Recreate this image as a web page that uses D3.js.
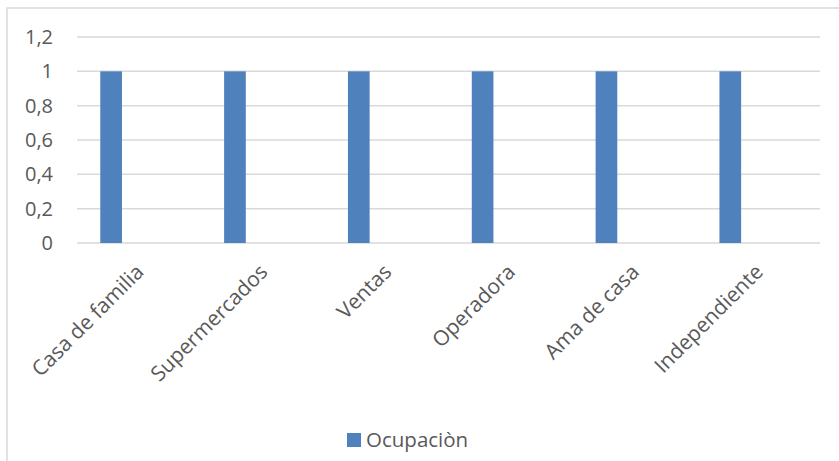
<!DOCTYPE html>
<html>
<head>
<meta charset="utf-8">
<script src="https://cdn.jsdelivr.net/npm/d3@7"></script>
<style>
  html, body { margin: 0; padding: 0; background: #fff; }
  svg { display: block; }
  text { font-family: "Open Sans", sans-serif; fill: #595959; }
</style>
</head>
<body>
<svg id="chart" width="839" height="461"></svg>
<script>
const categories = ["Casa de familia", "Supermercados", "Ventas", "Operadora", "Ama de casa", "Independiente"];
const values = [1, 1, 1, 1, 1, 1];
const yTicks = [0, 0.2, 0.4, 0.6, 0.8, 1, 1.2];
const seriesName = "Ocupaciòn";

const W = 839, H = 461;
const plot = { left: 77, right: 820, top: 37, bottom: 243 };
const barColor = "#4f81bd";
const gridColor = "#d9d9d9";

const svg = d3.select("#chart");

// outer chart border
svg.append("rect")
  .attr("x", 7).attr("y", 8)
  .attr("width", W + 10).attr("height", H + 10)
  .attr("fill", "none").attr("stroke", gridColor).attr("stroke-width", 1.5);

const x = d3.scaleBand().domain(categories).range([plot.left, plot.right]).padding(0);
const y = d3.scaleLinear().domain([0, 1.2]).range([plot.bottom, plot.top]);

const fmt = v => d3.format("~g")(+v.toFixed(1)).replace(".", ",");

// gridlines
svg.append("g").selectAll("line").data(yTicks).join("line")
  .attr("x1", plot.left).attr("x2", plot.right)
  .attr("y1", d => y(d)).attr("y2", d => y(d))
  .attr("stroke", gridColor).attr("stroke-width", 1.5);

// y labels
const yAxis = d3.axisLeft(y).tickValues(yTicks).tickFormat(fmt).tickSize(0).tickPadding(0);
const gy = svg.append("g").attr("transform", `translate(53,0)`).call(yAxis);
gy.select(".domain").remove();
gy.selectAll("text").attr("font-size", 20).attr("fill", "#595959")
  .attr("font-family", "'Open Sans', sans-serif");

// bars (offset within category band)
const barStart = 0.188, barFrac = 0.175;
svg.append("g").selectAll("rect").data(categories).join("rect")
  .attr("x", (d) => x(d) + x.bandwidth() * barStart)
  .attr("width", x.bandwidth() * barFrac)
  .attr("y", (d, i) => y(values[i]))
  .attr("height", (d, i) => y(0) - y(values[i]))
  .attr("fill", barColor);

// x labels rotated
svg.append("g").selectAll("text").data(categories).join("text")
  .attr("transform", d => `translate(${x(d) + x.bandwidth() / 2 + 1},${plot.bottom + 25}) rotate(-45)`)
  .attr("text-anchor", "end")
  .attr("dy", "0.35em")
  .attr("font-size", 21)
  .text(d => d);

// legend
const lg = svg.append("g");
lg.append("rect").attr("x", 347).attr("y", 433).attr("width", 14).attr("height", 14).attr("fill", barColor);
lg.append("text").attr("x", 366).attr("y", 447).attr("font-size", 20.5).text(seriesName);
</script>
</body>
</html>
